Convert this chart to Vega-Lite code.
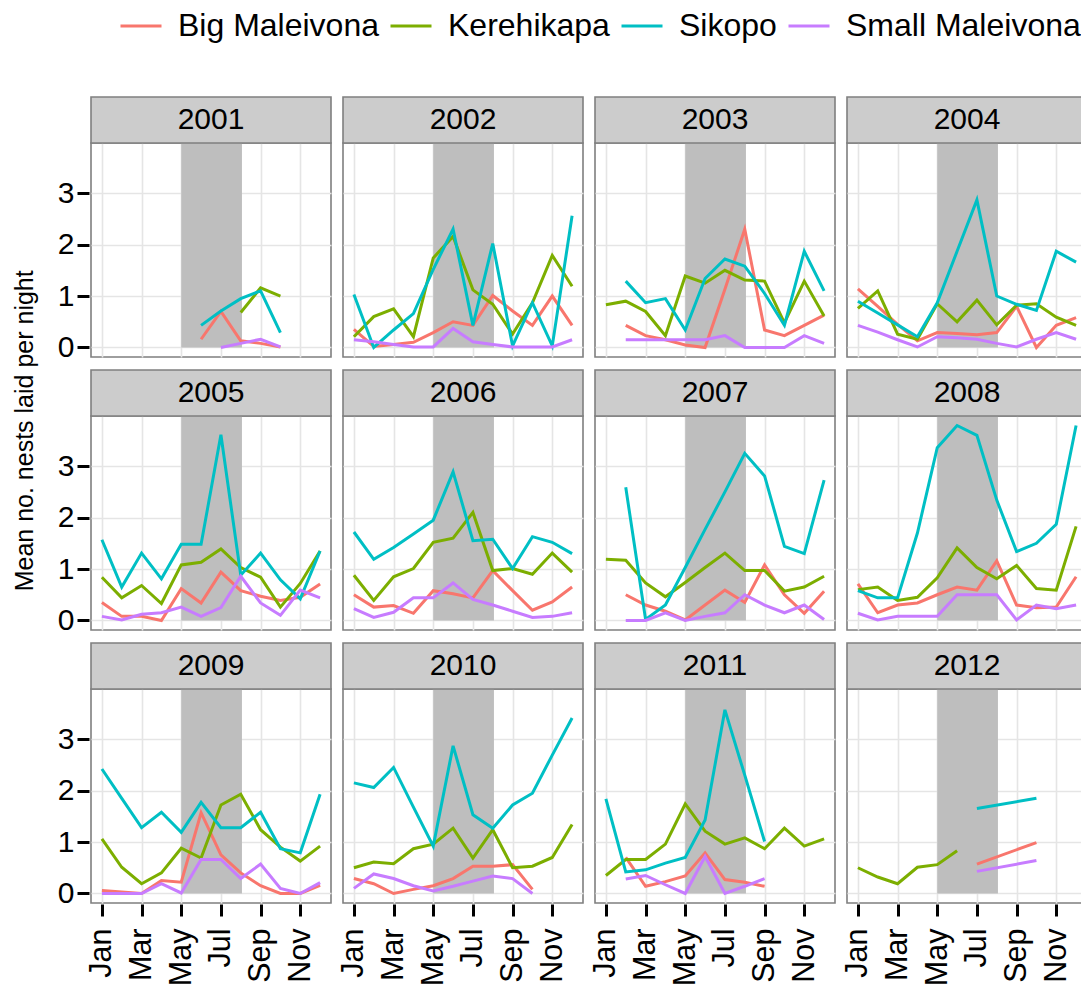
{
  "$schema": "https://vega.github.io/schema/vega-lite/v6.json",
  "padding": {"left": 13, "top": 4, "right": 0, "bottom": 0},
  "background": "white",
  "title": {"text": "Mean no. nests laid per night", "orient": "left", "anchor": "middle", "fontSize": 25, "fontWeight": "normal", "color": "black", "offset": 19, "dx": 64},
  "config": {
    "font": "Liberation Sans",
    "view": {"stroke": "#7F7F7F", "strokeWidth": 1.6, "fill": "white"},
    "headerFacet": {"labels": false, "title": null, "labelFontSize": 1, "labelColor": "transparent", "labelPadding": 0, "titlePadding": 0}
  },
  "data": {"values": [
    {"year":"2001","site":"Big Maleivona","month":6,"value":0.16},
    {"year":"2001","site":"Big Maleivona","month":7,"value":0.7},
    {"year":"2001","site":"Big Maleivona","month":8,"value":0.13},
    {"year":"2001","site":"Big Maleivona","month":9,"value":0.08},
    {"year":"2001","site":"Big Maleivona","month":10,"value":0.01},
    {"year":"2001","site":"Kerehikapa","month":8,"value":0.68},
    {"year":"2001","site":"Kerehikapa","month":9,"value":1.16},
    {"year":"2001","site":"Kerehikapa","month":10,"value":1.0},
    {"year":"2001","site":"Sikopo","month":6,"value":0.43},
    {"year":"2001","site":"Sikopo","month":7,"value":0.71},
    {"year":"2001","site":"Sikopo","month":8,"value":0.95},
    {"year":"2001","site":"Sikopo","month":9,"value":1.1},
    {"year":"2001","site":"Sikopo","month":10,"value":0.29},
    {"year":"2001","site":"Small Maleivona","month":7,"value":0.0},
    {"year":"2001","site":"Small Maleivona","month":8,"value":0.08},
    {"year":"2001","site":"Small Maleivona","month":9,"value":0.16},
    {"year":"2001","site":"Small Maleivona","month":10,"value":0.01},

    {"year":"2002","site":"Big Maleivona","month":1,"value":0.35},
    {"year":"2002","site":"Big Maleivona","month":2,"value":0.02},
    {"year":"2002","site":"Big Maleivona","month":3,"value":0.06},
    {"year":"2002","site":"Big Maleivona","month":4,"value":0.1},
    {"year":"2002","site":"Big Maleivona","month":5,"value":0.29},
    {"year":"2002","site":"Big Maleivona","month":6,"value":0.5},
    {"year":"2002","site":"Big Maleivona","month":7,"value":0.43},
    {"year":"2002","site":"Big Maleivona","month":8,"value":1.01},
    {"year":"2002","site":"Big Maleivona","month":9,"value":0.71},
    {"year":"2002","site":"Big Maleivona","month":10,"value":0.43},
    {"year":"2002","site":"Big Maleivona","month":11,"value":1.0},
    {"year":"2002","site":"Big Maleivona","month":12,"value":0.43},
    {"year":"2002","site":"Kerehikapa","month":1,"value":0.21},
    {"year":"2002","site":"Kerehikapa","month":2,"value":0.6},
    {"year":"2002","site":"Kerehikapa","month":3,"value":0.75},
    {"year":"2002","site":"Kerehikapa","month":4,"value":0.21},
    {"year":"2002","site":"Kerehikapa","month":5,"value":1.74},
    {"year":"2002","site":"Kerehikapa","month":6,"value":2.16},
    {"year":"2002","site":"Kerehikapa","month":7,"value":1.12},
    {"year":"2002","site":"Kerehikapa","month":8,"value":0.84},
    {"year":"2002","site":"Kerehikapa","month":9,"value":0.26},
    {"year":"2002","site":"Kerehikapa","month":10,"value":0.87},
    {"year":"2002","site":"Kerehikapa","month":11,"value":1.79},
    {"year":"2002","site":"Kerehikapa","month":12,"value":1.19},
    {"year":"2002","site":"Sikopo","month":1,"value":1.03},
    {"year":"2002","site":"Sikopo","month":2,"value":0.0},
    {"year":"2002","site":"Sikopo","month":3,"value":0.34},
    {"year":"2002","site":"Sikopo","month":4,"value":0.66},
    {"year":"2002","site":"Sikopo","month":5,"value":1.52},
    {"year":"2002","site":"Sikopo","month":6,"value":2.3},
    {"year":"2002","site":"Sikopo","month":7,"value":0.43},
    {"year":"2002","site":"Sikopo","month":8,"value":2.02},
    {"year":"2002","site":"Sikopo","month":9,"value":0.03},
    {"year":"2002","site":"Sikopo","month":10,"value":0.87},
    {"year":"2002","site":"Sikopo","month":11,"value":0.03},
    {"year":"2002","site":"Sikopo","month":12,"value":2.56},
    {"year":"2002","site":"Small Maleivona","month":1,"value":0.15},
    {"year":"2002","site":"Small Maleivona","month":2,"value":0.11},
    {"year":"2002","site":"Small Maleivona","month":3,"value":0.06},
    {"year":"2002","site":"Small Maleivona","month":4,"value":0.01},
    {"year":"2002","site":"Small Maleivona","month":5,"value":0.01},
    {"year":"2002","site":"Small Maleivona","month":6,"value":0.37},
    {"year":"2002","site":"Small Maleivona","month":7,"value":0.11},
    {"year":"2002","site":"Small Maleivona","month":8,"value":0.06},
    {"year":"2002","site":"Small Maleivona","month":9,"value":0.01},
    {"year":"2002","site":"Small Maleivona","month":10,"value":0.01},
    {"year":"2002","site":"Small Maleivona","month":11,"value":0.01},
    {"year":"2002","site":"Small Maleivona","month":12,"value":0.15},

    {"year":"2003","site":"Big Maleivona","month":2,"value":0.43},
    {"year":"2003","site":"Big Maleivona","month":3,"value":0.23},
    {"year":"2003","site":"Big Maleivona","month":4,"value":0.15},
    {"year":"2003","site":"Big Maleivona","month":5,"value":0.05},
    {"year":"2003","site":"Big Maleivona","month":6,"value":0.0},
    {"year":"2003","site":"Big Maleivona","month":7,"value":1.13},
    {"year":"2003","site":"Big Maleivona","month":8,"value":2.3},
    {"year":"2003","site":"Big Maleivona","month":9,"value":0.34},
    {"year":"2003","site":"Big Maleivona","month":10,"value":0.23},
    {"year":"2003","site":"Big Maleivona","month":11,"value":0.43},
    {"year":"2003","site":"Big Maleivona","month":12,"value":0.63},
    {"year":"2003","site":"Kerehikapa","month":1,"value":0.83},
    {"year":"2003","site":"Kerehikapa","month":2,"value":0.9},
    {"year":"2003","site":"Kerehikapa","month":3,"value":0.7},
    {"year":"2003","site":"Kerehikapa","month":4,"value":0.23},
    {"year":"2003","site":"Kerehikapa","month":5,"value":1.39},
    {"year":"2003","site":"Kerehikapa","month":6,"value":1.25},
    {"year":"2003","site":"Kerehikapa","month":7,"value":1.5},
    {"year":"2003","site":"Kerehikapa","month":8,"value":1.31},
    {"year":"2003","site":"Kerehikapa","month":9,"value":1.29},
    {"year":"2003","site":"Kerehikapa","month":10,"value":0.48},
    {"year":"2003","site":"Kerehikapa","month":11,"value":1.29},
    {"year":"2003","site":"Kerehikapa","month":12,"value":0.61},
    {"year":"2003","site":"Sikopo","month":2,"value":1.29},
    {"year":"2003","site":"Sikopo","month":3,"value":0.87},
    {"year":"2003","site":"Sikopo","month":4,"value":0.95},
    {"year":"2003","site":"Sikopo","month":5,"value":0.34},
    {"year":"2003","site":"Sikopo","month":6,"value":1.34},
    {"year":"2003","site":"Sikopo","month":7,"value":1.72},
    {"year":"2003","site":"Sikopo","month":8,"value":1.58},
    {"year":"2003","site":"Sikopo","month":9,"value":1.05},
    {"year":"2003","site":"Sikopo","month":10,"value":0.43},
    {"year":"2003","site":"Sikopo","month":11,"value":1.87},
    {"year":"2003","site":"Sikopo","month":12,"value":1.1},
    {"year":"2003","site":"Small Maleivona","month":2,"value":0.15},
    {"year":"2003","site":"Small Maleivona","month":3,"value":0.15},
    {"year":"2003","site":"Small Maleivona","month":4,"value":0.15},
    {"year":"2003","site":"Small Maleivona","month":5,"value":0.15},
    {"year":"2003","site":"Small Maleivona","month":6,"value":0.15},
    {"year":"2003","site":"Small Maleivona","month":7,"value":0.23},
    {"year":"2003","site":"Small Maleivona","month":8,"value":0.0},
    {"year":"2003","site":"Small Maleivona","month":9,"value":0.0},
    {"year":"2003","site":"Small Maleivona","month":10,"value":0.0},
    {"year":"2003","site":"Small Maleivona","month":11,"value":0.23},
    {"year":"2003","site":"Small Maleivona","month":12,"value":0.08},

    {"year":"2004","site":"Big Maleivona","month":1,"value":1.14},
    {"year":"2004","site":"Big Maleivona","month":2,"value":0.8},
    {"year":"2004","site":"Big Maleivona","month":3,"value":0.45},
    {"year":"2004","site":"Big Maleivona","month":4,"value":0.13},
    {"year":"2004","site":"Big Maleivona","month":5,"value":0.29},
    {"year":"2004","site":"Big Maleivona","month":6,"value":0.27},
    {"year":"2004","site":"Big Maleivona","month":7,"value":0.25},
    {"year":"2004","site":"Big Maleivona","month":8,"value":0.29},
    {"year":"2004","site":"Big Maleivona","month":9,"value":0.8},
    {"year":"2004","site":"Big Maleivona","month":10,"value":0.0},
    {"year":"2004","site":"Big Maleivona","month":11,"value":0.43},
    {"year":"2004","site":"Big Maleivona","month":12,"value":0.58},
    {"year":"2004","site":"Kerehikapa","month":1,"value":0.76},
    {"year":"2004","site":"Kerehikapa","month":2,"value":1.1},
    {"year":"2004","site":"Kerehikapa","month":3,"value":0.26},
    {"year":"2004","site":"Kerehikapa","month":4,"value":0.16},
    {"year":"2004","site":"Kerehikapa","month":5,"value":0.85},
    {"year":"2004","site":"Kerehikapa","month":6,"value":0.5},
    {"year":"2004","site":"Kerehikapa","month":7,"value":0.92},
    {"year":"2004","site":"Kerehikapa","month":8,"value":0.44},
    {"year":"2004","site":"Kerehikapa","month":9,"value":0.82},
    {"year":"2004","site":"Kerehikapa","month":10,"value":0.85},
    {"year":"2004","site":"Kerehikapa","month":11,"value":0.59},
    {"year":"2004","site":"Kerehikapa","month":12,"value":0.43},
    {"year":"2004","site":"Sikopo","month":1,"value":0.9},
    {"year":"2004","site":"Sikopo","month":2,"value":0.67},
    {"year":"2004","site":"Sikopo","month":3,"value":0.44},
    {"year":"2004","site":"Sikopo","month":4,"value":0.21},
    {"year":"2004","site":"Sikopo","month":5,"value":0.87},
    {"year":"2004","site":"Sikopo","month":6,"value":1.87},
    {"year":"2004","site":"Sikopo","month":7,"value":2.87},
    {"year":"2004","site":"Sikopo","month":8,"value":1.0},
    {"year":"2004","site":"Sikopo","month":9,"value":0.84},
    {"year":"2004","site":"Sikopo","month":10,"value":0.72},
    {"year":"2004","site":"Sikopo","month":11,"value":1.87},
    {"year":"2004","site":"Sikopo","month":12,"value":1.66},
    {"year":"2004","site":"Small Maleivona","month":1,"value":0.43},
    {"year":"2004","site":"Small Maleivona","month":2,"value":0.3},
    {"year":"2004","site":"Small Maleivona","month":3,"value":0.15},
    {"year":"2004","site":"Small Maleivona","month":4,"value":0.01},
    {"year":"2004","site":"Small Maleivona","month":5,"value":0.21},
    {"year":"2004","site":"Small Maleivona","month":6,"value":0.19},
    {"year":"2004","site":"Small Maleivona","month":7,"value":0.16},
    {"year":"2004","site":"Small Maleivona","month":8,"value":0.08},
    {"year":"2004","site":"Small Maleivona","month":9,"value":0.01},
    {"year":"2004","site":"Small Maleivona","month":10,"value":0.16},
    {"year":"2004","site":"Small Maleivona","month":11,"value":0.29},
    {"year":"2004","site":"Small Maleivona","month":12,"value":0.16},

    {"year":"2005","site":"Big Maleivona","month":1,"value":0.35},
    {"year":"2005","site":"Big Maleivona","month":2,"value":0.08},
    {"year":"2005","site":"Big Maleivona","month":3,"value":0.08},
    {"year":"2005","site":"Big Maleivona","month":4,"value":0.0},
    {"year":"2005","site":"Big Maleivona","month":5,"value":0.62},
    {"year":"2005","site":"Big Maleivona","month":6,"value":0.34},
    {"year":"2005","site":"Big Maleivona","month":7,"value":0.94},
    {"year":"2005","site":"Big Maleivona","month":8,"value":0.58},
    {"year":"2005","site":"Big Maleivona","month":9,"value":0.47},
    {"year":"2005","site":"Big Maleivona","month":10,"value":0.39},
    {"year":"2005","site":"Big Maleivona","month":11,"value":0.45},
    {"year":"2005","site":"Big Maleivona","month":12,"value":0.71},
    {"year":"2005","site":"Kerehikapa","month":1,"value":0.84},
    {"year":"2005","site":"Kerehikapa","month":2,"value":0.44},
    {"year":"2005","site":"Kerehikapa","month":3,"value":0.68},
    {"year":"2005","site":"Kerehikapa","month":4,"value":0.33},
    {"year":"2005","site":"Kerehikapa","month":5,"value":1.08},
    {"year":"2005","site":"Kerehikapa","month":6,"value":1.13},
    {"year":"2005","site":"Kerehikapa","month":7,"value":1.39},
    {"year":"2005","site":"Kerehikapa","month":8,"value":1.03},
    {"year":"2005","site":"Kerehikapa","month":9,"value":0.84},
    {"year":"2005","site":"Kerehikapa","month":10,"value":0.26},
    {"year":"2005","site":"Kerehikapa","month":11,"value":0.72},
    {"year":"2005","site":"Kerehikapa","month":12,"value":1.35},
    {"year":"2005","site":"Sikopo","month":1,"value":1.57},
    {"year":"2005","site":"Sikopo","month":2,"value":0.65},
    {"year":"2005","site":"Sikopo","month":3,"value":1.31},
    {"year":"2005","site":"Sikopo","month":4,"value":0.81},
    {"year":"2005","site":"Sikopo","month":5,"value":1.48},
    {"year":"2005","site":"Sikopo","month":6,"value":1.48},
    {"year":"2005","site":"Sikopo","month":7,"value":3.61},
    {"year":"2005","site":"Sikopo","month":8,"value":0.88},
    {"year":"2005","site":"Sikopo","month":9,"value":1.31},
    {"year":"2005","site":"Sikopo","month":10,"value":0.79},
    {"year":"2005","site":"Sikopo","month":11,"value":0.42},
    {"year":"2005","site":"Sikopo","month":12,"value":1.35},
    {"year":"2005","site":"Small Maleivona","month":1,"value":0.08},
    {"year":"2005","site":"Small Maleivona","month":2,"value":0.01},
    {"year":"2005","site":"Small Maleivona","month":3,"value":0.12},
    {"year":"2005","site":"Small Maleivona","month":4,"value":0.15},
    {"year":"2005","site":"Small Maleivona","month":5,"value":0.26},
    {"year":"2005","site":"Small Maleivona","month":6,"value":0.08},
    {"year":"2005","site":"Small Maleivona","month":7,"value":0.25},
    {"year":"2005","site":"Small Maleivona","month":8,"value":0.86},
    {"year":"2005","site":"Small Maleivona","month":9,"value":0.34},
    {"year":"2005","site":"Small Maleivona","month":10,"value":0.1},
    {"year":"2005","site":"Small Maleivona","month":11,"value":0.59},
    {"year":"2005","site":"Small Maleivona","month":12,"value":0.44},

    {"year":"2006","site":"Big Maleivona","month":1,"value":0.5},
    {"year":"2006","site":"Big Maleivona","month":2,"value":0.26},
    {"year":"2006","site":"Big Maleivona","month":3,"value":0.29},
    {"year":"2006","site":"Big Maleivona","month":4,"value":0.14},
    {"year":"2006","site":"Big Maleivona","month":5,"value":0.58},
    {"year":"2006","site":"Big Maleivona","month":6,"value":0.52},
    {"year":"2006","site":"Big Maleivona","month":7,"value":0.44},
    {"year":"2006","site":"Big Maleivona","month":8,"value":0.97},
    {"year":"2006","site":"Big Maleivona","month":9,"value":0.58},
    {"year":"2006","site":"Big Maleivona","month":10,"value":0.2},
    {"year":"2006","site":"Big Maleivona","month":11,"value":0.36},
    {"year":"2006","site":"Big Maleivona","month":12,"value":0.65},
    {"year":"2006","site":"Kerehikapa","month":1,"value":0.88},
    {"year":"2006","site":"Kerehikapa","month":2,"value":0.39},
    {"year":"2006","site":"Kerehikapa","month":3,"value":0.85},
    {"year":"2006","site":"Kerehikapa","month":4,"value":1.01},
    {"year":"2006","site":"Kerehikapa","month":5,"value":1.52},
    {"year":"2006","site":"Kerehikapa","month":6,"value":1.6},
    {"year":"2006","site":"Kerehikapa","month":7,"value":2.1},
    {"year":"2006","site":"Kerehikapa","month":8,"value":0.97},
    {"year":"2006","site":"Kerehikapa","month":9,"value":1.01},
    {"year":"2006","site":"Kerehikapa","month":10,"value":0.9},
    {"year":"2006","site":"Kerehikapa","month":11,"value":1.31},
    {"year":"2006","site":"Kerehikapa","month":12,"value":0.94},
    {"year":"2006","site":"Sikopo","month":1,"value":1.72},
    {"year":"2006","site":"Sikopo","month":2,"value":1.19},
    {"year":"2006","site":"Sikopo","month":3,"value":1.42},
    {"year":"2006","site":"Sikopo","month":4,"value":1.68},
    {"year":"2006","site":"Sikopo","month":5,"value":1.95},
    {"year":"2006","site":"Sikopo","month":6,"value":2.89},
    {"year":"2006","site":"Sikopo","month":7,"value":1.55},
    {"year":"2006","site":"Sikopo","month":8,"value":1.58},
    {"year":"2006","site":"Sikopo","month":9,"value":1.01},
    {"year":"2006","site":"Sikopo","month":10,"value":1.63},
    {"year":"2006","site":"Sikopo","month":11,"value":1.52},
    {"year":"2006","site":"Sikopo","month":12,"value":1.3},
    {"year":"2006","site":"Small Maleivona","month":1,"value":0.23},
    {"year":"2006","site":"Small Maleivona","month":2,"value":0.06},
    {"year":"2006","site":"Small Maleivona","month":3,"value":0.16},
    {"year":"2006","site":"Small Maleivona","month":4,"value":0.44},
    {"year":"2006","site":"Small Maleivona","month":5,"value":0.44},
    {"year":"2006","site":"Small Maleivona","month":6,"value":0.73},
    {"year":"2006","site":"Small Maleivona","month":7,"value":0.41},
    {"year":"2006","site":"Small Maleivona","month":8,"value":0.3},
    {"year":"2006","site":"Small Maleivona","month":9,"value":0.18},
    {"year":"2006","site":"Small Maleivona","month":10,"value":0.06},
    {"year":"2006","site":"Small Maleivona","month":11,"value":0.08},
    {"year":"2006","site":"Small Maleivona","month":12,"value":0.15},

    {"year":"2007","site":"Big Maleivona","month":2,"value":0.5},
    {"year":"2007","site":"Big Maleivona","month":3,"value":0.3},
    {"year":"2007","site":"Big Maleivona","month":4,"value":0.18},
    {"year":"2007","site":"Big Maleivona","month":5,"value":0.01},
    {"year":"2007","site":"Big Maleivona","month":6,"value":0.3},
    {"year":"2007","site":"Big Maleivona","month":7,"value":0.59},
    {"year":"2007","site":"Big Maleivona","month":8,"value":0.35},
    {"year":"2007","site":"Big Maleivona","month":9,"value":1.08},
    {"year":"2007","site":"Big Maleivona","month":10,"value":0.5},
    {"year":"2007","site":"Big Maleivona","month":11,"value":0.14},
    {"year":"2007","site":"Big Maleivona","month":12,"value":0.57},
    {"year":"2007","site":"Kerehikapa","month":1,"value":1.19},
    {"year":"2007","site":"Kerehikapa","month":2,"value":1.17},
    {"year":"2007","site":"Kerehikapa","month":3,"value":0.73},
    {"year":"2007","site":"Kerehikapa","month":4,"value":0.46},
    {"year":"2007","site":"Kerehikapa","month":5,"value":0.74},
    {"year":"2007","site":"Kerehikapa","month":6,"value":1.03},
    {"year":"2007","site":"Kerehikapa","month":7,"value":1.31},
    {"year":"2007","site":"Kerehikapa","month":8,"value":0.97},
    {"year":"2007","site":"Kerehikapa","month":9,"value":0.97},
    {"year":"2007","site":"Kerehikapa","month":10,"value":0.57},
    {"year":"2007","site":"Kerehikapa","month":11,"value":0.65},
    {"year":"2007","site":"Kerehikapa","month":12,"value":0.86},
    {"year":"2007","site":"Sikopo","month":2,"value":2.59},
    {"year":"2007","site":"Sikopo","month":3,"value":0.02},
    {"year":"2007","site":"Sikopo","month":4,"value":0.3},
    {"year":"2007","site":"Sikopo","month":5,"value":1.03},
    {"year":"2007","site":"Sikopo","month":6,"value":1.77},
    {"year":"2007","site":"Sikopo","month":7,"value":2.5},
    {"year":"2007","site":"Sikopo","month":8,"value":3.25},
    {"year":"2007","site":"Sikopo","month":9,"value":2.81},
    {"year":"2007","site":"Sikopo","month":10,"value":1.44},
    {"year":"2007","site":"Sikopo","month":11,"value":1.3},
    {"year":"2007","site":"Sikopo","month":12,"value":2.73},
    {"year":"2007","site":"Small Maleivona","month":2,"value":0.0},
    {"year":"2007","site":"Small Maleivona","month":3,"value":0.0},
    {"year":"2007","site":"Small Maleivona","month":4,"value":0.15},
    {"year":"2007","site":"Small Maleivona","month":5,"value":0.0},
    {"year":"2007","site":"Small Maleivona","month":6,"value":0.08},
    {"year":"2007","site":"Small Maleivona","month":7,"value":0.15},
    {"year":"2007","site":"Small Maleivona","month":8,"value":0.5},
    {"year":"2007","site":"Small Maleivona","month":9,"value":0.3},
    {"year":"2007","site":"Small Maleivona","month":10,"value":0.15},
    {"year":"2007","site":"Small Maleivona","month":11,"value":0.3},
    {"year":"2007","site":"Small Maleivona","month":12,"value":0.02},

    {"year":"2008","site":"Big Maleivona","month":1,"value":0.71},
    {"year":"2008","site":"Big Maleivona","month":2,"value":0.15},
    {"year":"2008","site":"Big Maleivona","month":3,"value":0.3},
    {"year":"2008","site":"Big Maleivona","month":4,"value":0.34},
    {"year":"2008","site":"Big Maleivona","month":5,"value":0.5},
    {"year":"2008","site":"Big Maleivona","month":6,"value":0.65},
    {"year":"2008","site":"Big Maleivona","month":7,"value":0.59},
    {"year":"2008","site":"Big Maleivona","month":8,"value":1.16},
    {"year":"2008","site":"Big Maleivona","month":9,"value":0.3},
    {"year":"2008","site":"Big Maleivona","month":10,"value":0.25},
    {"year":"2008","site":"Big Maleivona","month":11,"value":0.26},
    {"year":"2008","site":"Big Maleivona","month":12,"value":0.85},
    {"year":"2008","site":"Kerehikapa","month":1,"value":0.6},
    {"year":"2008","site":"Kerehikapa","month":2,"value":0.65},
    {"year":"2008","site":"Kerehikapa","month":3,"value":0.39},
    {"year":"2008","site":"Kerehikapa","month":4,"value":0.45},
    {"year":"2008","site":"Kerehikapa","month":5,"value":0.83},
    {"year":"2008","site":"Kerehikapa","month":6,"value":1.41},
    {"year":"2008","site":"Kerehikapa","month":7,"value":1.03},
    {"year":"2008","site":"Kerehikapa","month":8,"value":0.81},
    {"year":"2008","site":"Kerehikapa","month":9,"value":1.07},
    {"year":"2008","site":"Kerehikapa","month":10,"value":0.62},
    {"year":"2008","site":"Kerehikapa","month":11,"value":0.59},
    {"year":"2008","site":"Kerehikapa","month":12,"value":1.83},
    {"year":"2008","site":"Sikopo","month":1,"value":0.58},
    {"year":"2008","site":"Sikopo","month":2,"value":0.44},
    {"year":"2008","site":"Sikopo","month":3,"value":0.44},
    {"year":"2008","site":"Sikopo","month":4,"value":1.7},
    {"year":"2008","site":"Sikopo","month":5,"value":3.36},
    {"year":"2008","site":"Sikopo","month":6,"value":3.79},
    {"year":"2008","site":"Sikopo","month":7,"value":3.6},
    {"year":"2008","site":"Sikopo","month":8,"value":2.34},
    {"year":"2008","site":"Sikopo","month":9,"value":1.34},
    {"year":"2008","site":"Sikopo","month":10,"value":1.5},
    {"year":"2008","site":"Sikopo","month":11,"value":1.87},
    {"year":"2008","site":"Sikopo","month":12,"value":3.79},
    {"year":"2008","site":"Small Maleivona","month":1,"value":0.14},
    {"year":"2008","site":"Small Maleivona","month":2,"value":0.01},
    {"year":"2008","site":"Small Maleivona","month":3,"value":0.08},
    {"year":"2008","site":"Small Maleivona","month":4,"value":0.08},
    {"year":"2008","site":"Small Maleivona","month":5,"value":0.08},
    {"year":"2008","site":"Small Maleivona","month":6,"value":0.5},
    {"year":"2008","site":"Small Maleivona","month":7,"value":0.5},
    {"year":"2008","site":"Small Maleivona","month":8,"value":0.5},
    {"year":"2008","site":"Small Maleivona","month":9,"value":0.01},
    {"year":"2008","site":"Small Maleivona","month":10,"value":0.3},
    {"year":"2008","site":"Small Maleivona","month":11,"value":0.23},
    {"year":"2008","site":"Small Maleivona","month":12,"value":0.3},

    {"year":"2009","site":"Big Maleivona","month":1,"value":0.06},
    {"year":"2009","site":"Big Maleivona","month":2,"value":0.03},
    {"year":"2009","site":"Big Maleivona","month":3,"value":0.0},
    {"year":"2009","site":"Big Maleivona","month":4,"value":0.25},
    {"year":"2009","site":"Big Maleivona","month":5,"value":0.22},
    {"year":"2009","site":"Big Maleivona","month":6,"value":1.57},
    {"year":"2009","site":"Big Maleivona","month":7,"value":0.75},
    {"year":"2009","site":"Big Maleivona","month":8,"value":0.4},
    {"year":"2009","site":"Big Maleivona","month":9,"value":0.15},
    {"year":"2009","site":"Big Maleivona","month":10,"value":0.0},
    {"year":"2009","site":"Big Maleivona","month":11,"value":0.0},
    {"year":"2009","site":"Big Maleivona","month":12,"value":0.16},
    {"year":"2009","site":"Kerehikapa","month":1,"value":1.06},
    {"year":"2009","site":"Kerehikapa","month":2,"value":0.51},
    {"year":"2009","site":"Kerehikapa","month":3,"value":0.19},
    {"year":"2009","site":"Kerehikapa","month":4,"value":0.4},
    {"year":"2009","site":"Kerehikapa","month":5,"value":0.88},
    {"year":"2009","site":"Kerehikapa","month":6,"value":0.69},
    {"year":"2009","site":"Kerehikapa","month":7,"value":1.72},
    {"year":"2009","site":"Kerehikapa","month":8,"value":1.93},
    {"year":"2009","site":"Kerehikapa","month":9,"value":1.24},
    {"year":"2009","site":"Kerehikapa","month":10,"value":0.9},
    {"year":"2009","site":"Kerehikapa","month":11,"value":0.63},
    {"year":"2009","site":"Kerehikapa","month":12,"value":0.92},
    {"year":"2009","site":"Sikopo","month":1,"value":2.42},
    {"year":"2009","site":"Sikopo","month":2,"value":1.85},
    {"year":"2009","site":"Sikopo","month":3,"value":1.28},
    {"year":"2009","site":"Sikopo","month":4,"value":1.58},
    {"year":"2009","site":"Sikopo","month":5,"value":1.19},
    {"year":"2009","site":"Sikopo","month":6,"value":1.77},
    {"year":"2009","site":"Sikopo","month":7,"value":1.28},
    {"year":"2009","site":"Sikopo","month":8,"value":1.28},
    {"year":"2009","site":"Sikopo","month":9,"value":1.58},
    {"year":"2009","site":"Sikopo","month":10,"value":0.87},
    {"year":"2009","site":"Sikopo","month":11,"value":0.79},
    {"year":"2009","site":"Sikopo","month":12,"value":1.93},
    {"year":"2009","site":"Small Maleivona","month":1,"value":0.0},
    {"year":"2009","site":"Small Maleivona","month":2,"value":0.0},
    {"year":"2009","site":"Small Maleivona","month":3,"value":0.0},
    {"year":"2009","site":"Small Maleivona","month":4,"value":0.19},
    {"year":"2009","site":"Small Maleivona","month":5,"value":0.01},
    {"year":"2009","site":"Small Maleivona","month":6,"value":0.66},
    {"year":"2009","site":"Small Maleivona","month":7,"value":0.66},
    {"year":"2009","site":"Small Maleivona","month":8,"value":0.29},
    {"year":"2009","site":"Small Maleivona","month":9,"value":0.57},
    {"year":"2009","site":"Small Maleivona","month":10,"value":0.1},
    {"year":"2009","site":"Small Maleivona","month":11,"value":0.0},
    {"year":"2009","site":"Small Maleivona","month":12,"value":0.21},

    {"year":"2010","site":"Big Maleivona","month":1,"value":0.29},
    {"year":"2010","site":"Big Maleivona","month":2,"value":0.19},
    {"year":"2010","site":"Big Maleivona","month":3,"value":0.0},
    {"year":"2010","site":"Big Maleivona","month":4,"value":0.08},
    {"year":"2010","site":"Big Maleivona","month":5,"value":0.15},
    {"year":"2010","site":"Big Maleivona","month":6,"value":0.29},
    {"year":"2010","site":"Big Maleivona","month":7,"value":0.53},
    {"year":"2010","site":"Big Maleivona","month":8,"value":0.53},
    {"year":"2010","site":"Big Maleivona","month":9,"value":0.56},
    {"year":"2010","site":"Big Maleivona","month":10,"value":0.08},
    {"year":"2010","site":"Kerehikapa","month":1,"value":0.5},
    {"year":"2010","site":"Kerehikapa","month":2,"value":0.61},
    {"year":"2010","site":"Kerehikapa","month":3,"value":0.58},
    {"year":"2010","site":"Kerehikapa","month":4,"value":0.87},
    {"year":"2010","site":"Kerehikapa","month":5,"value":0.96},
    {"year":"2010","site":"Kerehikapa","month":6,"value":1.27},
    {"year":"2010","site":"Kerehikapa","month":7,"value":0.69},
    {"year":"2010","site":"Kerehikapa","month":8,"value":1.24},
    {"year":"2010","site":"Kerehikapa","month":9,"value":0.5},
    {"year":"2010","site":"Kerehikapa","month":10,"value":0.53},
    {"year":"2010","site":"Kerehikapa","month":11,"value":0.7},
    {"year":"2010","site":"Kerehikapa","month":12,"value":1.34},
    {"year":"2010","site":"Sikopo","month":1,"value":2.15},
    {"year":"2010","site":"Sikopo","month":2,"value":2.06},
    {"year":"2010","site":"Sikopo","month":3,"value":2.45},
    {"year":"2010","site":"Sikopo","month":4,"value":1.68},
    {"year":"2010","site":"Sikopo","month":5,"value":0.92},
    {"year":"2010","site":"Sikopo","month":6,"value":2.87},
    {"year":"2010","site":"Sikopo","month":7,"value":1.53},
    {"year":"2010","site":"Sikopo","month":8,"value":1.27},
    {"year":"2010","site":"Sikopo","month":9,"value":1.72},
    {"year":"2010","site":"Sikopo","month":10,"value":1.95},
    {"year":"2010","site":"Sikopo","month":11,"value":2.69},
    {"year":"2010","site":"Sikopo","month":12,"value":3.41},
    {"year":"2010","site":"Small Maleivona","month":1,"value":0.1},
    {"year":"2010","site":"Small Maleivona","month":2,"value":0.38},
    {"year":"2010","site":"Small Maleivona","month":3,"value":0.29},
    {"year":"2010","site":"Small Maleivona","month":4,"value":0.15},
    {"year":"2010","site":"Small Maleivona","month":5,"value":0.05},
    {"year":"2010","site":"Small Maleivona","month":6,"value":0.14},
    {"year":"2010","site":"Small Maleivona","month":7,"value":0.24},
    {"year":"2010","site":"Small Maleivona","month":8,"value":0.34},
    {"year":"2010","site":"Small Maleivona","month":9,"value":0.29},
    {"year":"2010","site":"Small Maleivona","month":10,"value":0.0},

    {"year":"2011","site":"Big Maleivona","month":2,"value":0.7},
    {"year":"2011","site":"Big Maleivona","month":3,"value":0.14},
    {"year":"2011","site":"Big Maleivona","month":4,"value":0.23},
    {"year":"2011","site":"Big Maleivona","month":5,"value":0.34},
    {"year":"2011","site":"Big Maleivona","month":6,"value":0.79},
    {"year":"2011","site":"Big Maleivona","month":7,"value":0.27},
    {"year":"2011","site":"Big Maleivona","month":8,"value":0.22},
    {"year":"2011","site":"Big Maleivona","month":9,"value":0.14},
    {"year":"2011","site":"Kerehikapa","month":1,"value":0.35},
    {"year":"2011","site":"Kerehikapa","month":2,"value":0.66},
    {"year":"2011","site":"Kerehikapa","month":3,"value":0.66},
    {"year":"2011","site":"Kerehikapa","month":4,"value":0.96},
    {"year":"2011","site":"Kerehikapa","month":5,"value":1.74},
    {"year":"2011","site":"Kerehikapa","month":6,"value":1.21},
    {"year":"2011","site":"Kerehikapa","month":7,"value":0.96},
    {"year":"2011","site":"Kerehikapa","month":8,"value":1.08},
    {"year":"2011","site":"Kerehikapa","month":9,"value":0.87},
    {"year":"2011","site":"Kerehikapa","month":10,"value":1.27},
    {"year":"2011","site":"Kerehikapa","month":11,"value":0.92},
    {"year":"2011","site":"Kerehikapa","month":12,"value":1.06},
    {"year":"2011","site":"Sikopo","month":1,"value":1.84},
    {"year":"2011","site":"Sikopo","month":2,"value":0.42},
    {"year":"2011","site":"Sikopo","month":3,"value":0.46},
    {"year":"2011","site":"Sikopo","month":4,"value":0.59},
    {"year":"2011","site":"Sikopo","month":5,"value":0.7},
    {"year":"2011","site":"Sikopo","month":6,"value":1.43},
    {"year":"2011","site":"Sikopo","month":7,"value":3.57},
    {"year":"2011","site":"Sikopo","month":8,"value":2.3},
    {"year":"2011","site":"Sikopo","month":9,"value":1.01},
    {"year":"2011","site":"Small Maleivona","month":2,"value":0.28},
    {"year":"2011","site":"Small Maleivona","month":3,"value":0.35},
    {"year":"2011","site":"Small Maleivona","month":4,"value":0.17},
    {"year":"2011","site":"Small Maleivona","month":5,"value":0.0},
    {"year":"2011","site":"Small Maleivona","month":6,"value":0.72},
    {"year":"2011","site":"Small Maleivona","month":7,"value":0.0},
    {"year":"2011","site":"Small Maleivona","month":8,"value":0.14},
    {"year":"2011","site":"Small Maleivona","month":9,"value":0.29},

    {"year":"2012","site":"Big Maleivona","month":7,"value":0.57},
    {"year":"2012","site":"Big Maleivona","month":10,"value":0.99},
    {"year":"2012","site":"Kerehikapa","month":1,"value":0.5},
    {"year":"2012","site":"Kerehikapa","month":2,"value":0.32},
    {"year":"2012","site":"Kerehikapa","month":3,"value":0.19},
    {"year":"2012","site":"Kerehikapa","month":4,"value":0.51},
    {"year":"2012","site":"Kerehikapa","month":5,"value":0.56},
    {"year":"2012","site":"Kerehikapa","month":6,"value":0.83},
    {"year":"2012","site":"Sikopo","month":7,"value":1.65},
    {"year":"2012","site":"Sikopo","month":10,"value":1.85},
    {"year":"2012","site":"Small Maleivona","month":7,"value":0.43},
    {"year":"2012","site":"Small Maleivona","month":10,"value":0.64}
  ]},
  "facet": {"field": "year", "type": "nominal", "header": {"labels": false, "title": null, "labelFontSize": 1, "labelColor": "transparent", "labelPadding": 0, "titlePadding": 0}},
  "columns": 4,
  "spacing": {"row": 9, "column": 8},
  "spec": {
    "width": 240,
    "height": 214,
    "layer": [
      {
        "transform": [{"aggregate": [{"op": "count", "as": "n"}], "groupby": ["year"]}],
        "mark": {"type": "rect", "color": "#BEBEBE"},
        "encoding": {
          "x": {"datum": 5, "type": "quantitative"},
          "x2": {"datum": 8.06},
          "y": {"datum": 0, "type": "quantitative"},
          "y2": {"datum": 3.975}
        }
      },
      {
        "mark": {"type": "line", "strokeWidth": 3},
        "encoding": {
          "x": {
            "field": "month", "type": "quantitative", "title": null,
            "scale": {"domain": [0.45, 12.55], "nice": false, "zero": false},
            "axis": {
              "title": null,
              "values": [1,2,3,4,5,6,7,8,9,10,11,12],
              "labelExpr": "datum.value % 2 == 1 ? ['Jan','Feb','Mar','Apr','May','Jun','Jul','Aug','Sep','Oct','Nov','Dec'][datum.value - 1] : ''",
              "labelAngle": -90,
              "labelFontSize": 30.5,
              "labelColor": "black",
              "labelPadding": 12,
              "labelOverlap": false,
              "labelFlush": false,
              "tickSize": 12,
              "tickWidth": 3,
              "tickColor": "black",
              "tickOpacity": {"condition": {"test": "datum.value % 2 == 0", "value": 0}, "value": 1},
              "domain": false,
              "grid": true,
              "gridColor": {"condition": {"test": "datum.value % 2 == 0", "value": "#F0F0F0"}, "value": "#E5E5E5"},
              "gridWidth": 1.6
            }
          },
          "y": {
            "field": "value", "type": "quantitative", "title": null,
            "scale": {"domain": [-0.185, 3.975], "nice": false, "zero": false},
            "axis": {
              "title": null,
              "values": [0, 0.5, 1, 1.5, 2, 2.5, 3, 3.5],
              "labelExpr": "datum.value % 1 == 0 ? format(datum.value, 'd') : ''",
              "labelFontSize": 30,
              "labelColor": "black",
              "labelPadding": 3,
              "labelOverlap": false,
              "labelFlush": false,
              "tickSize": 12,
              "tickWidth": 3,
              "tickColor": "black",
              "tickOpacity": {"condition": {"test": "datum.value % 1 != 0", "value": 0}, "value": 1},
              "domain": false,
              "grid": true,
              "gridColor": {"condition": {"test": "datum.value % 1 != 0", "value": "#F0F0F0"}, "value": "#E5E5E5"},
              "gridWidth": 1.6
            }
          },
          "color": {
            "field": "site", "type": "nominal",
            "scale": {"domain": ["Big Maleivona", "Kerehikapa", "Sikopo", "Small Maleivona"], "range": ["#F8766D", "#7CAE00", "#00BFC4", "#C77CFF"]},
            "legend": {
              "title": null,
              "orient": "none",
              "direction": "horizontal",
              "legendX": 28,
              "legendY": -139,
              "symbolType": "stroke",
              "symbolStrokeWidth": 3,
              "symbolSize": 1681,
              "labelFontSize": 32,
              "labelColor": "black",
              "labelOffset": 15,
              "columnPadding": 5,
              "labelLimit": 500
            }
          }
        }
      },
      {
        "transform": [{"aggregate": [{"op": "count", "as": "n"}], "groupby": ["year"]}],
        "mark": {"type": "rect", "color": "#CCCCCC", "stroke": "#7F7F7F", "strokeWidth": 1.6, "clip": false},
        "encoding": {
          "x": {"datum": 0.45, "type": "quantitative"},
          "x2": {"datum": 12.55},
          "y": {"datum": 3.975, "type": "quantitative"},
          "y2": {"datum": 4.87}
        }
      },
      {
        "transform": [{"aggregate": [{"op": "count", "as": "n"}], "groupby": ["year"]}],
        "mark": {"type": "text", "fontSize": 30, "color": "black", "align": "center", "baseline": "middle", "clip": false},
        "encoding": {
          "x": {"datum": 6.5, "type": "quantitative"},
          "y": {"datum": 4.42, "type": "quantitative"},
          "text": {"field": "year", "type": "nominal"}
        }
      }
    ]
  }
}
